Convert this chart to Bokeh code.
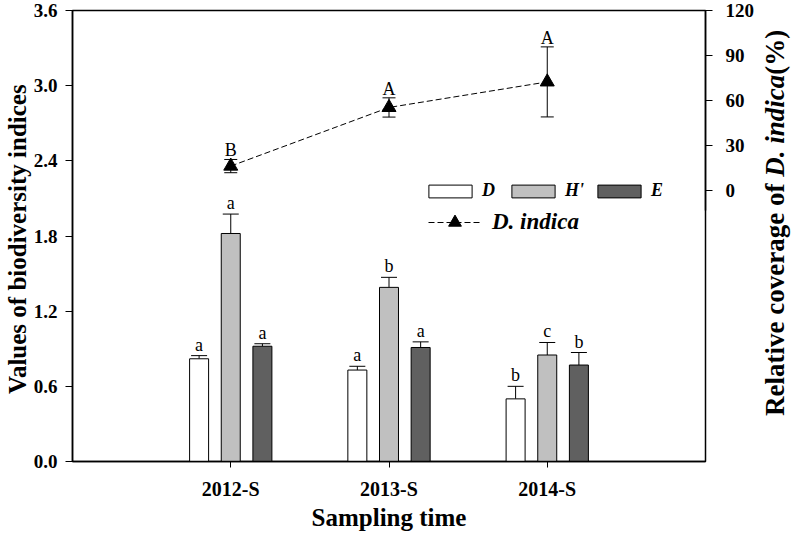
import math
from bokeh.plotting import figure
from bokeh.layouts import row
from bokeh.models import (Range1d, LinearAxis, FixedTicker, PrintfTickFormatter,
                          Whisker, TeeHead, ColumnDataSource, LabelSet,
                          Legend, LegendItem, Div)
from bokeh.embed import file_html
from bokeh.resources import INLINE

# ---------------- data ----------------
categories = ["2012-S", "2013-S", "2014-S"]
D_vals = [0.82, 0.73, 0.50]
D_err = [0.025, 0.03, 0.10]
D_letters = ["a", "a", "b"]
H_vals = [1.82, 1.39, 0.85]
H_err = [0.155, 0.08, 0.10]
H_letters = ["a", "b", "c"]
E_vals = [0.92, 0.91, 0.77]
E_err = [0.02, 0.045, 0.10]
E_letters = ["a", "a", "b"]
cov_vals = [16.5, 55.5, 72.5]
cov_err = [4.4, 6.4, 23.3]
cov_letters = ["B", "A", "A"]
left_ticks = [0.0, 0.6, 1.2, 1.8, 2.4, 3.0, 3.6]
right_ticks = [0, 30, 60, 90, 120]

SERIF = "Liberation Serif"

p = figure(width=757, height=533, output_backend="svg", toolbar_location=None,
           x_range=Range1d(0, 4), y_range=Range1d(0, 3.6),
           min_border_left=72, min_border_right=51, min_border_top=10,
           min_border_bottom=71)
p.extra_y_ranges = {"right": Range1d(-180, 120)}
p.xgrid.visible = False
p.ygrid.visible = False
p.outline_line_color = "black"
p.outline_line_width = 1.5
p.background_fill_color = "white"
p.border_fill_color = "white"

xpos = [i + 1 for i in range(len(categories))]

series = [
    ("D", D_vals, D_err, D_letters, "white", -0.2),
    ("H'", H_vals, H_err, H_letters, "#c0c0c0", 0.0),
    ("E", E_vals, E_err, E_letters, "#606060", 0.2),
]
bar_renderers = []
for name, vals, errs, letters, color, off in series:
    xs = [x + off for x in xpos]
    src = ColumnDataSource(dict(x=xs, top=vals, up=[v + e for v, e in zip(vals, errs)],
                                txt=letters))
    r = p.vbar(x="x", top="top", width=0.12, source=src, fill_color=color,
               line_color="black", line_width=1)
    bar_renderers.append((name, r))
    w = Whisker(base="x", lower="top", upper="up", source=src, dimension="height",
                line_color="black", line_width=1,
                upper_head=TeeHead(size=16, line_color="black", line_width=1),
                lower_head=None)
    p.add_layout(w)
    ls = LabelSet(x="x", y="up", text="txt", source=src, text_align="center",
                  text_baseline="alphabetic", y_offset=5, text_font=SERIF,
                  text_font_size="18px", text_color="black")
    p.add_layout(ls)

# coverage line on right axis
csrc = ColumnDataSource(dict(x=xpos, y=cov_vals,
                             lo=[v - e for v, e in zip(cov_vals, cov_err)],
                             hi=[v + e for v, e in zip(cov_vals, cov_err)],
                             txt=cov_letters))
line_r = p.line("x", "y", source=csrc, y_range_name="right", line_color="black",
                line_width=1, line_dash="6 3")
pt_r = p.scatter("x", "y", source=csrc, y_range_name="right", marker="triangle",
                 size=14, fill_color="black", line_color="black")
cw = Whisker(base="x", lower="lo", upper="hi", source=csrc, dimension="height",
             y_range_name="right", line_color="black", line_width=1,
             upper_head=TeeHead(size=13, line_color="black", line_width=1),
             lower_head=TeeHead(size=13, line_color="black", line_width=1))
p.add_layout(cw)
cls = LabelSet(x="x", y="hi", text="txt", source=csrc, y_range_name="right",
               text_align="center", text_baseline="alphabetic", y_offset=3,
               text_font=SERIF, text_font_size="18px", text_color="black")
p.add_layout(cls)

# ---------------- axes ----------------
xa = p.xaxis[0]
xa.ticker = FixedTicker(ticks=xpos)
xa.major_label_overrides = {x: c for x, c in zip(xpos, categories)}
xa.minor_tick_line_color = None
xa.major_tick_out = 6
xa.major_tick_in = 0
xa.axis_line_width = 1.5
xa.major_label_text_font = SERIF
xa.major_label_text_font_style = "bold"
xa.major_label_text_font_size = "20px"
xa.major_label_text_color = "black"
xa.major_label_standoff = 10
xa.axis_label = "Sampling time"
xa.axis_label_text_font = SERIF
xa.axis_label_text_font_style = "bold"
xa.axis_label_text_font_size = "25px"
xa.axis_label_text_color = "black"
xa.axis_label_standoff = 1

ya = p.yaxis[0]
ya.ticker = FixedTicker(ticks=left_ticks)
ya.formatter = PrintfTickFormatter(format="%.1f")
ya.minor_tick_line_color = None
ya.major_tick_out = 7
ya.major_tick_in = 0
ya.axis_line_width = 1.5
ya.major_label_text_font = SERIF
ya.major_label_text_font_style = "bold"
ya.major_label_text_font_size = "19px"
ya.major_label_text_color = "black"
ya.major_label_standoff = 8
ya.axis_label = "Values of  biodiversity indices"
ya.axis_label_text_font = SERIF
ya.axis_label_text_font_style = "bold"
ya.axis_label_text_font_size = "25px"
ya.axis_label_text_color = "black"
ya.axis_label_standoff = 0

ra = LinearAxis(y_range_name="right", ticker=FixedTicker(ticks=right_ticks),
                formatter=PrintfTickFormatter(format="%d"), bounds=(-13, 120))
ra.minor_tick_line_color = None
ra.major_tick_out = 7
ra.major_tick_in = 0
ra.axis_line_width = 1.5
ra.major_label_text_font = SERIF
ra.major_label_text_font_style = "bold"
ra.major_label_text_font_size = "19px"
ra.major_label_text_color = "black"
ra.major_label_standoff = 13
p.add_layout(ra, "right")

# ---------------- legends ----------------
leg_pos = {"D": (351, 260), "H'": (434, 260), "E": (520, 260)}
for name, r in bar_renderers:
    lg = Legend(items=[LegendItem(label=name, renderers=[r])], location=leg_pos[name],
                orientation="horizontal", glyph_width=54, glyph_height=16,
                label_standoff=5, padding=0, margin=0, spacing=0,
                border_line_color=None, background_fill_alpha=0,
                label_text_font=SERIF, label_text_font_style="bold italic",
                label_text_font_size="18px", label_text_color="black")
    p.add_layout(lg)
lg2 = Legend(items=[LegendItem(label="D. indica", renderers=[line_r, pt_r])],
             location=(356, 223), glyph_width=53, glyph_height=32, label_standoff=11,
             padding=0, margin=0, border_line_color=None, background_fill_alpha=0,
             label_text_font=SERIF, label_text_font_style="bold italic",
             label_text_font_size="23px", label_text_color="black")
p.add_layout(lg2)

# ---------------- right-hand title (mixed bold / bold italic) ----------------
right_title_html = (
    '<div style="position:relative;width:34px;height:533px;">'
    '<div style="position:absolute;left:0px;top:411px;transform:rotate(-90deg);'
    'transform-origin:left top;white-space:nowrap;font-family:\'Liberation Serif\';'
    'font-weight:bold;font-size:27px;line-height:27px;color:black;">'
    'Relative coverage of <i>D. indica</i>(%)</div></div>'
)
rt = Div(text=right_title_html, width=34, height=533,
         styles={"overflow": "visible", "background-color": "white"})

open("out.html", "w").write(file_html(row(p, rt), INLINE))
